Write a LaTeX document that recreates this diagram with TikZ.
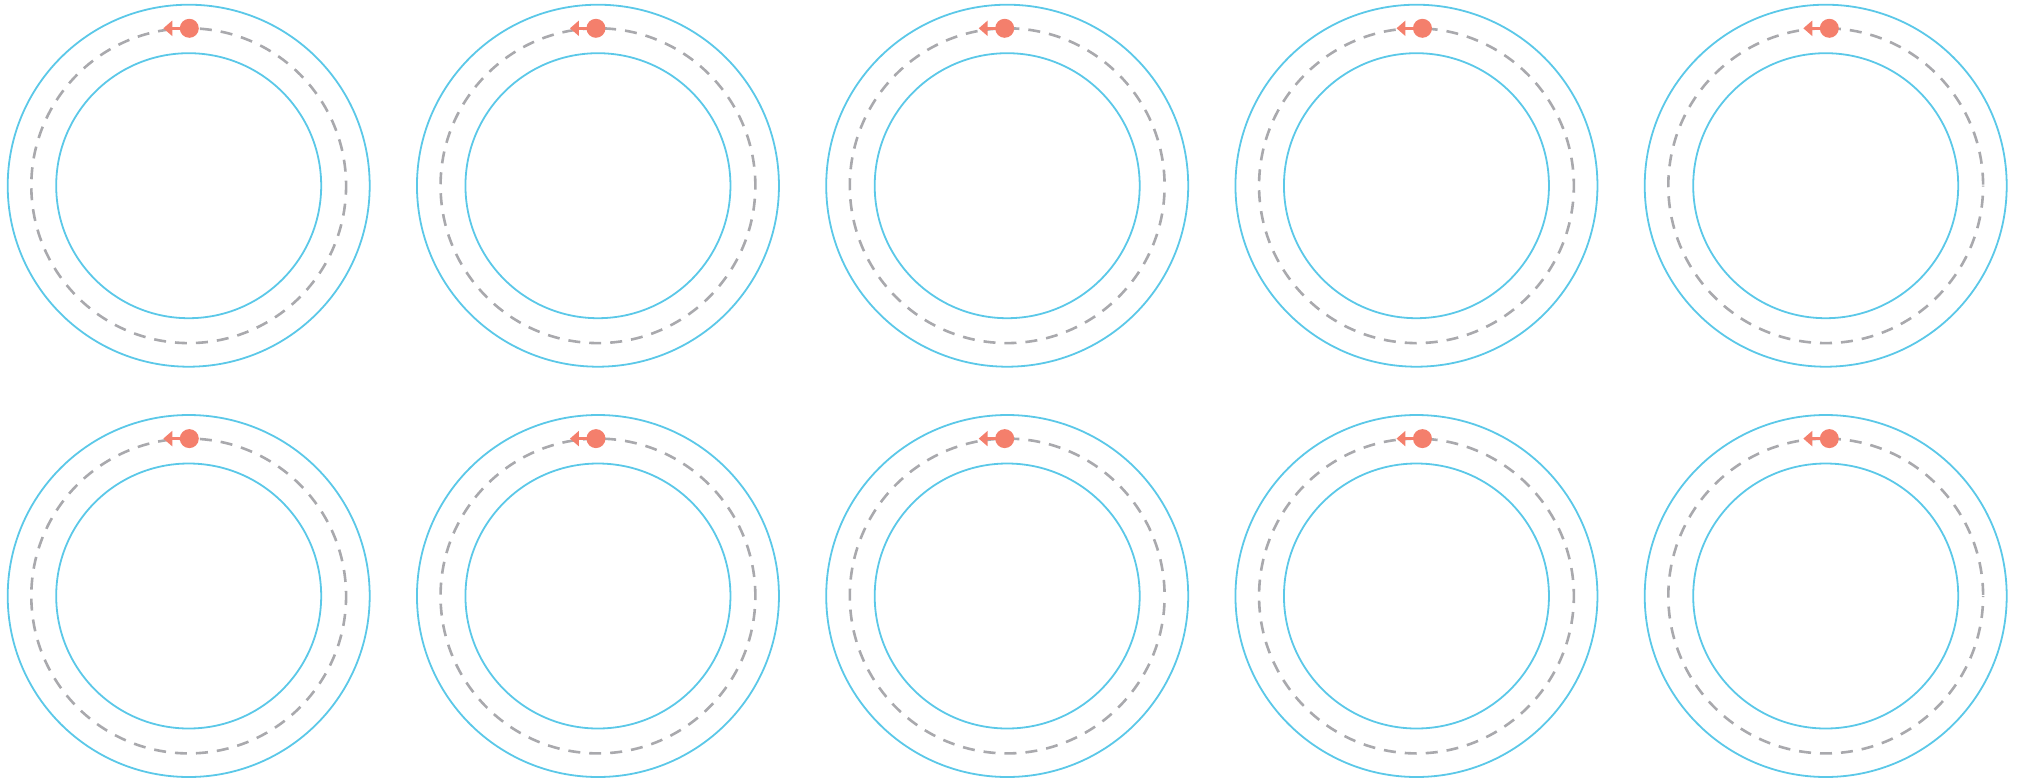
\documentclass[tikz,border=0pt]{standalone}
\usepackage{tikz}
\usetikzlibrary{arrows.meta, calc}
\usepackage{xcolor}
\definecolor{ringblue}{HTML}{5BC8E8}
\definecolor{ballred}{HTML}{F47F6C}
\definecolor{pathgray}{HTML}{A9A9AD}

\begin{document}
\begin{tikzpicture}[x=1pt,y=-1pt,
    ring/.style={ringblue,line width=1.8pt},
    track/.style={pathgray,line width=2.6pt,dash pattern=on 12pt off 9pt},
    ball/.style={circle,fill=ballred,inner sep=0pt,minimum size=19pt},
    push/.style={ballred,line width=3.5pt,-{Triangle[length=9pt,width=15pt]}}]
  \useasboundingbox (0,0) rectangle (2020,782);
  \foreach \row in {0,1}{
    \foreach \col/\shift/\phase in {0/0.6/3, 1/-2/8, 2/-2.5/14, 3/6/5, 4/3.6/11}{
      \coordinate (c-\col-\row) at (188.7+409.25*\col, 185.7+410.3*\row);
      \draw[ring] (c-\col-\row) circle (181);
      \draw[ring] (c-\col-\row) circle (132.5);
      \draw[track,dash phase=\phase pt] (c-\col-\row) circle (157.4);
      \node[ball] (ball-\col-\row) at ($(c-\col-\row)+(\shift,-157.4)$) {};
      \coordinate (tip-\col-\row) at ($(ball-\col-\row.center)+(-26,0)$);
      \draw[push] (ball-\col-\row.center) -- (tip-\col-\row);
    }
  }
\end{tikzpicture}
\end{document}
